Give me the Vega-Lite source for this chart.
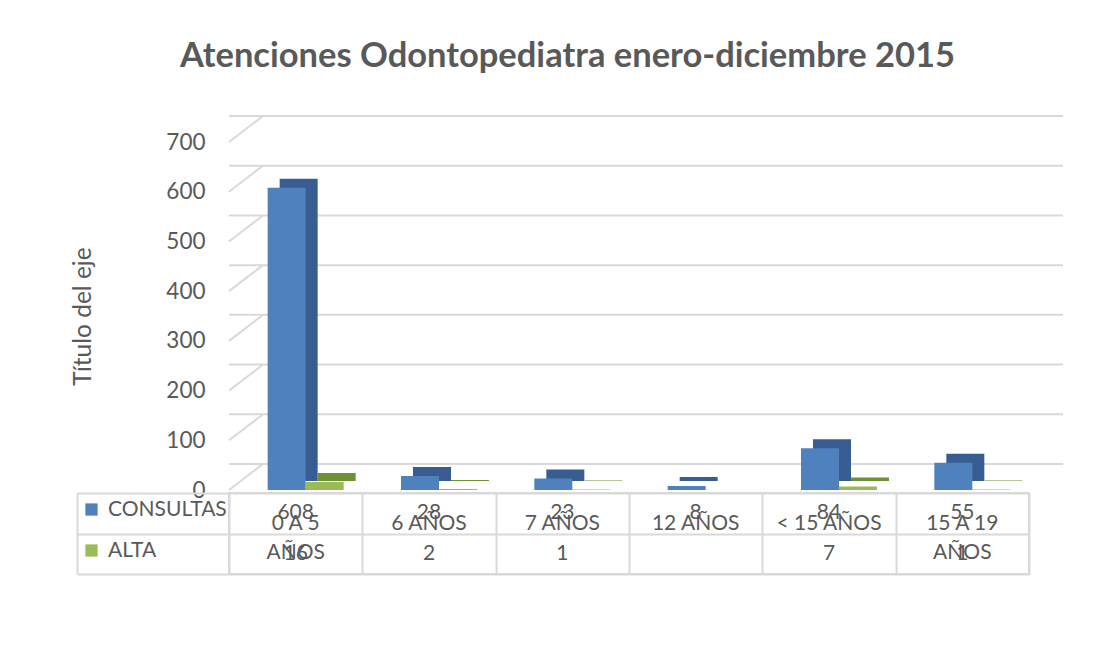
{
  "$schema": "https://vega.github.io/schema/vega-lite/v6.json",
  "padding": {"left": 70, "top": 38, "right": 10, "bottom": 10},
  "background": "white",
  "title": {"text": "Atenciones Odontopediatra enero-diciembre 2015", "fontSize": 34.5, "fontWeight": "bold", "color": "#595959", "font": "Lato", "anchor": "middle", "offset": 41},
  "config": {"font": "Lato", "view": {"stroke": null}},
  "datasets": {
    "d": [
      {"cat": "0 A 5\nAÑOS", "serie": "CONSULTAS", "value": 608},
      {"cat": "6  AÑOS", "serie": "CONSULTAS", "value": 28},
      {"cat": "7 AÑOS", "serie": "CONSULTAS", "value": 23},
      {"cat": "12 AÑOS", "serie": "CONSULTAS", "value": 8},
      {"cat": "< 15 AÑOS", "serie": "CONSULTAS", "value": 84},
      {"cat": "15 A 19\nAÑOS", "serie": "CONSULTAS", "value": 55},
      {"cat": "0 A 5\nAÑOS", "serie": "ALTA", "value": 16},
      {"cat": "6  AÑOS", "serie": "ALTA", "value": 2},
      {"cat": "7 AÑOS", "serie": "ALTA", "value": 1},
      {"cat": "< 15 AÑOS", "serie": "ALTA", "value": 7},
      {"cat": "15 A 19\nAÑOS", "serie": "ALTA", "value": 1}
    ],
    "grid": [{"v": 0}, {"v": 100}, {"v": 200}, {"v": 300}, {"v": 400}, {"v": 500}, {"v": 600}, {"v": 700}]
  },
  "bounds": "flush",
  "spacing": 3,
  "vconcat": [
    {
      "width": 800,
      "height": 348,
      "layer": [
        {
          "data": {"name": "grid"},
          "mark": {"type": "rule", "xOffset": 34, "x2Offset": 34, "yOffset": -26, "color": "#d9d9d9", "strokeWidth": 2},
          "encoding": {
            "y": {"field": "v", "type": "quantitative", "scale": {"domain": [0, 700], "nice": false},
              "axis": {"values": [0, 100, 200, 300, 400, 500, 600, 700], "grid": false, "domain": false, "ticks": false, "tickSize": 0, "labelPadding": 24, "labelFontSize": 22.5, "labelColor": "#595959", "title": "Título del eje", "titleFontSize": 24.5, "titleFontWeight": "normal", "titleColor": "#595959", "titlePadding": 70}}
          }
        },
        {
          "data": {"name": "grid"},
          "mark": {"type": "rule", "y2Offset": -26, "color": "#d9d9d9", "strokeWidth": 2},
          "encoding": {
            "x": {"value": 0},
            "x2": {"value": 34},
            "y": {"field": "v", "type": "quantitative"},
            "y2": {"field": "v"}
          }
        },
        {
          "data": {"name": "d"},
          "transform": [{"filter": "datum.serie === 'CONSULTAS'"}],
          "mark": {"type": "bar", "width": {"band": 0.285}, "xOffset": 3, "yOffset": -9, "y2Offset": -9, "color": "#375d93"},
          "encoding": {
            "x": {"field": "cat", "type": "nominal", "sort": null, "scale": {"paddingInner": 0, "paddingOuter": 0}, "axis": null},
            "y": {"field": "value", "type": "quantitative"}
          }
        },
        {
          "data": {"name": "d"},
          "transform": [{"filter": "datum.serie === 'ALTA'"}],
          "mark": {"type": "bar", "width": {"band": 0.285}, "xOffset": 41, "yOffset": -9, "y2Offset": -9, "color": "#6c9235"},
          "encoding": {
            "x": {"field": "cat", "type": "nominal", "sort": null},
            "y": {"field": "value", "type": "quantitative"}
          }
        },
        {
          "data": {"name": "d"},
          "transform": [{"filter": "datum.serie === 'CONSULTAS'"}],
          "mark": {"type": "bar", "width": {"band": 0.285}, "xOffset": -9},
          "encoding": {
            "x": {"field": "cat", "type": "nominal", "sort": null},
            "y": {"field": "value", "type": "quantitative"},
            "color": {"field": "serie", "type": "nominal", "scale": {"domain": ["CONSULTAS", "ALTA"], "range": ["#4f81bd", "#9bbb59"]},
              "legend": {"orient": "none", "legendX": -148, "legendY": 357, "title": null, "symbolType": "square", "symbolSize": 150, "symbolStrokeWidth": 0, "labelFontSize": 21, "labelFontWeight": "normal", "labelColor": "#595959", "labelFont": "Lato", "rowPadding": 19, "labelOffset": 6, "padding": 0}}
          }
        },
        {
          "data": {"name": "d"},
          "transform": [{"filter": "datum.serie === 'ALTA'"}],
          "mark": {"type": "bar", "width": {"band": 0.285}, "xOffset": 29},
          "encoding": {
            "x": {"field": "cat", "type": "nominal", "sort": null},
            "y": {"field": "value", "type": "quantitative"},
            "color": {"field": "serie", "type": "nominal", "legend": null}
          }
        }
      ],
      "resolve": {"legend": {"color": "independent"}}
    },
    {
      "width": 800,
      "height": 81,
      "data": {"name": "d"},
      "view": {"stroke": "#d9d9d9", "strokeWidth": 2},
      "layer": [
        {
          "mark": {"type": "text", "fontSize": 21, "color": "#595959", "baseline": "middle"},
          "encoding": {
            "x": {"field": "cat", "type": "nominal", "sort": null, "scale": {"paddingInner": 0, "paddingOuter": 0},
              "axis": {"orient": "top", "labels": false, "ticks": false, "domain": false, "grid": true, "gridColor": "#d9d9d9", "gridWidth": 2, "tickBand": "extent", "title": null}},
            "y": {"field": "serie", "type": "nominal", "sort": ["CONSULTAS", "ALTA"], "scale": {"paddingInner": 0, "paddingOuter": 0},
              "axis": {"labels": false, "title": null, "offset": 152, "domain": true, "domainColor": "#d9d9d9", "domainWidth": 2, "ticks": true, "tickSize": -152, "tickColor": "#d9d9d9", "tickWidth": 2, "tickBand": "extent", "grid": true, "gridColor": "#d9d9d9", "gridWidth": 2}},
            "text": {"field": "value", "type": "quantitative"}
          }
        },
        {
          "transform": [{"filter": "datum.serie === 'CONSULTAS'"}],
          "mark": {"type": "text", "fontSize": 21, "color": "#595959", "baseline": "alphabetic", "lineBreak": "\n", "dy": 16.5, "lineHeight": 29.5},
          "encoding": {
            "x": {"field": "cat", "type": "nominal", "sort": null},
            "y": {"datum": "CONSULTAS"},
            "text": {"field": "cat"}
          }
        }
      ]
    }
  ]
}
